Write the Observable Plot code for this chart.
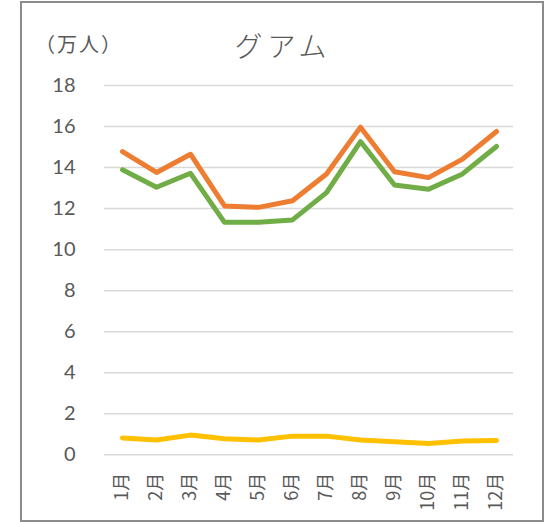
<!DOCTYPE html>
<html>
<head>
<meta charset="utf-8">
<script src="https://cdn.jsdelivr.net/npm/d3@7"></script>
<script src="https://cdn.jsdelivr.net/npm/@observablehq/plot@0.6"></script>
<style>
  html, body { margin: 0; padding: 0; background: #fff; }
  #wrap { position: relative; width: 548px; height: 522px; overflow: hidden; font-family: Lato, "Noto Sans CJK JP", sans-serif; }
  #frame { position: absolute; left: 20px; top: 1px; height: 521px; border: 2px solid #8c8c8c; box-sizing: border-box; width: 524px; }
  #title { position: absolute; left: 0; width: 566px; top: 25px; text-align: center; font: 300 28px "Noto Sans CJK JP", sans-serif; color: #595959; letter-spacing: 5px; }
  #unit { position: absolute; left: 35px; top: 29px; font: 400 20px "Noto Sans CJK JP", sans-serif; color: #595959; letter-spacing: 2px; }
  #chart { position: absolute; left: 0; top: 0; }
  #chart svg g[aria-label^="y-axis"] text { font-size: 20px !important; }
</style>
</head>
<body>
<div id="wrap">
  <div id="frame"></div>
  <div id="chart"></div>
  <div id="title">グアム</div>
  <div id="unit">（万人）</div>
</div>
<script>
const months = ["1月","2月","3月","4月","5月","6月","7月","8月","9月","10月","11月","12月"];
const seriesNames = ["系列1", "系列2", "系列3"];
const seriesColors = ["#ED7D31", "#70AD47", "#FFC000"];
const orangeValues = [14.78, 13.76, 14.65, 12.13, 12.06, 12.38, 13.69, 15.97, 13.8, 13.51, 14.41, 15.76];
const greenValues  = [13.89, 13.04, 13.72, 11.33, 11.34, 11.45, 12.78, 15.27, 13.15, 12.94, 13.69, 15.03];
const yellowValues = [0.82, 0.72, 0.96, 0.78, 0.72, 0.91, 0.91, 0.72, 0.64, 0.55, 0.67, 0.70];
const yTicks = [0, 2, 4, 6, 8, 10, 12, 14, 16, 18];

const allSeries = [orangeValues, greenValues, yellowValues];
const rows = [];
allSeries.forEach((vals, si) => vals.forEach((v, i) => rows.push({series: seriesNames[si], month: months[i], value: v})));

const chart = Plot.plot({
  width: 548,
  height: 522,
  marginTop: 85,
  marginBottom: 67.7,
  marginLeft: 104,
  marginRight: 35,
  style: {fontFamily: "Lato, 'Noto Sans CJK JP', sans-serif", fontSize: "20px", background: "transparent", color: "#595959"},
  x: {type: "band", domain: months, padding: 0, label: null, axis: null},
  y: {domain: [0, 18], label: null},
  color: {domain: seriesNames, range: seriesColors},
  marks: [
    Plot.ruleY(yTicks, {stroke: "#d9d9d9", strokeWidth: 1.5}),
    Plot.axisY({ticks: yTicks, tickSize: 0, tickPadding: 29, fontSize: 20, fill: "#595959", label: null}),
    Plot.text(months, {x: d => d, frameAnchor: "bottom", dy: 18, rotate: -90, textAnchor: "end", lineAnchor: "middle", fontSize: 18, fill: "#595959", fontFamily: "'Noto Sans CJK JP', sans-serif"}),
    Plot.line(rows, {x: "month", y: "value", z: "series", stroke: "series", strokeWidth: 5, strokeLinejoin: "round", strokeLinecap: "round"})
  ]
});
document.getElementById("chart").appendChild(chart);
</script>
</body>
</html>
